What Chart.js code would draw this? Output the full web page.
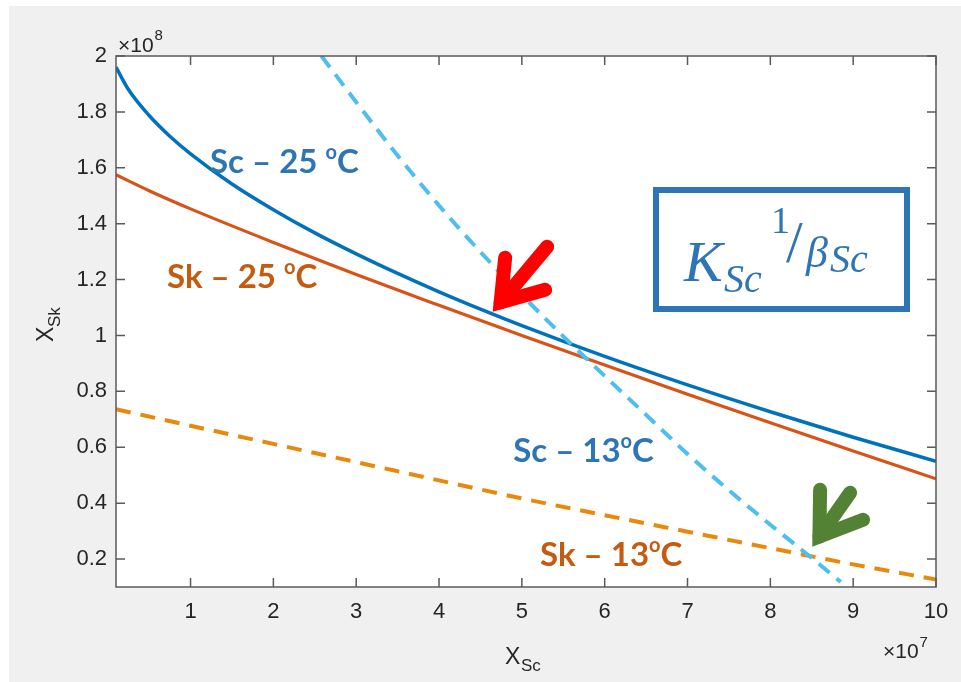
<!DOCTYPE html>
<html>
<head>
<meta charset="utf-8">
<script src="https://cdn.jsdelivr.net/npm/chart.js@4.4.1/dist/chart.umd.min.js"></script>
<style>
  html, body { margin: 0; padding: 0; background: #fff; }
</style>
</head>
<body>
<canvas id="c" width="961" height="682"></canvas>
<script>
// units: x in 1e7, y in 1e8
const xTicks = [1, 2, 3, 4, 5, 6, 7, 8, 9, 10];
const yTicks = [0.2, 0.4, 0.6, 0.8, 1, 1.2, 1.4, 1.6, 1.8, 2];

// Sc - 25 °C
const sc25X = [0.1, 0.25, 0.5, 0.75, 1, 1.5, 2, 2.5, 3, 3.5, 4, 4.5, 5, 6, 7, 8, 9, 10];
const sc25Y = [1.96, 1.88, 1.787, 1.713, 1.65, 1.542, 1.45, 1.367, 1.292, 1.222, 1.156, 1.094, 1.035, 0.925, 0.823, 0.727, 0.636, 0.55];

// Sk - 25 °C
const sk25X = [0.1, 0.5, 1, 2, 3, 4, 5, 6, 7, 8, 9, 10];
const sk25Y = [1.575, 1.518, 1.453, 1.333, 1.218, 1.108, 1.0, 0.894, 0.79, 0.688, 0.587, 0.487];

// Sc - 13 °C
const sc13X = [2.58, 3, 3.5, 4, 4.5, 5, 5.5, 6, 6.5, 7, 7.5, 8, 8.5, 8.85];
const sc13Y = [2.0, 1.835, 1.644, 1.465, 1.299, 1.145, 0.997, 0.855, 0.716, 0.576, 0.446, 0.323, 0.204, 0.118];

// Sk - 13 °C
const sk13X = [0.1, 1, 2, 3, 4, 5, 6, 7, 8, 9, 10];
const sk13Y = [0.736, 0.677, 0.612, 0.547, 0.4815, 0.417, 0.357, 0.298, 0.239, 0.181, 0.127];

// text labels (anchor = left / baseline, data units)
const curveLabels = [
  { name: 'Sc – 25 ', tail: 'C', x: 1.235, y: 1.58, color: '#2E75B6' },
  { name: 'Sk – 25 ', tail: 'C', x: 0.716, y: 1.17, color: '#C55A11' },
  { name: 'Sc – 13', tail: 'C', x: 4.895, y: 0.548, color: '#2E75B6' },
  { name: 'Sk – 13', tail: 'C', x: 5.22, y: 0.176, color: '#C55A11' }
];

// arrows: tip in data units, arm / shaft offsets in px
const arrows = [
  { x: 4.617, y: 1.074, arm1: [15, -57], arm2: [55, -25], shaft: [57, -68], color: '#FF0000', w: 14 },
  { x: 8.48, y: 0.233, arm1: [10, -60], arm2: [53, -30], shaft: [40, -57], color: '#548235', w: 14 }
];

function pts(xs, ys) {
  return xs.map((x, i) => ({ x: x, y: ys[i] }));
}

const axisFont = 'Liberation Sans, Arial, sans-serif';
const labelFont = 'Lato, Open Sans, sans-serif';
const mathFont = 'Liberation Serif, DejaVu Serif, serif';

function arrow(ctx, tip, a) {
  const n1 = Math.hypot(a.arm1[0], a.arm1[1]);
  const n2 = Math.hypot(a.arm2[0], a.arm2[1]);
  const u1 = [a.arm1[0] / n1, a.arm1[1] / n1];
  const u2 = [a.arm2[0] / n2, a.arm2[1] / n2];
  let d = [u1[0] + u2[0], u1[1] + u2[1]];
  const dn = Math.hypot(d[0], d[1]);
  d = [d[0] / dn, d[1] / dn];
  const half = Math.acos(u1[0] * u2[0] + u1[1] * u2[1]) / 2;
  const m = (a.w / 2) / Math.sin(half);
  const vx = tip.x + d[0] * m, vy = tip.y + d[1] * m;
  ctx.save();
  ctx.strokeStyle = a.color;
  ctx.lineWidth = a.w;
  ctx.lineCap = 'round';
  ctx.lineJoin = 'miter';
  ctx.miterLimit = 10;
  ctx.beginPath();
  ctx.moveTo(tip.x + a.arm1[0], tip.y + a.arm1[1]);
  ctx.lineTo(vx, vy);
  ctx.lineTo(tip.x + a.arm2[0], tip.y + a.arm2[1]);
  ctx.stroke();
  ctx.beginPath();
  ctx.moveTo(vx, vy);
  ctx.lineTo(tip.x + a.shaft[0], tip.y + a.shaft[1]);
  ctx.stroke();
  ctx.restore();
}

const decor = {
  id: 'decor',
  beforeDraw(chart) {
    const ctx = chart.ctx, a = chart.chartArea;
    ctx.save();
    ctx.fillStyle = '#ffffff';
    ctx.fillRect(0, 0, chart.width, chart.height);
    ctx.fillStyle = '#f0f0f0';
    ctx.fillRect(9, 6, chart.width - 9, chart.height - 6);
    ctx.fillStyle = '#ffffff';
    ctx.fillRect(a.left, a.top, a.right - a.left, a.bottom - a.top);
    ctx.restore();
  },
  afterDraw(chart) {
    const ctx = chart.ctx, a = chart.chartArea;
    const xs = chart.scales.x, ys = chart.scales.y;
    ctx.save();

    // axes box + inward ticks
    ctx.strokeStyle = '#5a5a5a';
    ctx.lineWidth = 1.5;
    ctx.strokeRect(a.left, a.top, a.right - a.left, a.bottom - a.top);
    ctx.beginPath();
    xTicks.forEach(v => {
      const p = xs.getPixelForValue(v);
      ctx.moveTo(p, a.bottom); ctx.lineTo(p, a.bottom - 9);
      ctx.moveTo(p, a.top); ctx.lineTo(p, a.top + 9);
    });
    yTicks.forEach(v => {
      const p = ys.getPixelForValue(v);
      ctx.moveTo(a.left, p); ctx.lineTo(a.left + 9, p);
      ctx.moveTo(a.right, p); ctx.lineTo(a.right - 9, p);
    });
    ctx.stroke();

    // exponent labels
    ctx.fillStyle = '#262626';
    ctx.textBaseline = 'alphabetic';
    ctx.font = '21px ' + axisFont;
    const ew = ctx.measureText('×10').width;
    ctx.fillText('×10', a.left + 2, a.top - 4);
    ctx.fillText('×10', a.right - 53, a.bottom + 71);
    ctx.font = '15px ' + axisFont;
    ctx.fillText('8', a.left + 3 + ew, a.top - 16);
    ctx.fillText('7', a.right - 52 + ew, a.bottom + 60);

    // axis titles
    ctx.font = '23px ' + axisFont;
    ctx.fillText('X', 505, 664);
    ctx.font = '17px ' + axisFont;
    ctx.fillText('Sc', 521, 671);
    ctx.save();
    ctx.translate(53, 342);
    ctx.rotate(-Math.PI / 2);
    ctx.font = '23px ' + axisFont;
    ctx.fillText('X', 0, 0);
    ctx.font = '17px ' + axisFont;
    ctx.fillText('Sk', 15, 7);
    ctx.restore();

    // curve labels
    curveLabels.forEach(l => {
      const px = xs.getPixelForValue(l.x), py = ys.getPixelForValue(l.y);
      ctx.fillStyle = l.color;
      ctx.font = 'bold 33px ' + labelFont;
      ctx.fillText(l.name, px, py);
      let w = ctx.measureText(l.name).width;
      ctx.font = 'bold 20px ' + labelFont;
      ctx.fillText('o', px + w, py - 14);
      w += ctx.measureText('o').width;
      ctx.font = 'bold 33px ' + labelFont;
      ctx.fillText(l.tail, px + w, py);
    });

    // formula box
    ctx.fillStyle = '#ffffff';
    ctx.fillRect(656, 190, 251, 119);
    ctx.strokeStyle = '#2E75B6';
    ctx.lineWidth = 6;
    ctx.strokeRect(656, 190, 251, 119);
    ctx.fillStyle = '#2E75B6';
    ctx.font = 'italic 58px ' + mathFont;
    ctx.fillText('K', 684, 281);
    ctx.font = 'italic 40px ' + mathFont;
    ctx.fillText('Sc', 724, 292);
    ctx.font = '38px ' + mathFont;
    ctx.fillText('1', 771, 233);
    ctx.font = '60px ' + mathFont;
    ctx.fillText('/', 786, 262);
    ctx.font = 'italic 44px ' + mathFont;
    ctx.fillText('β', 806, 267);
    ctx.font = 'italic 40px ' + mathFont;
    ctx.fillText('Sc', 830, 272);

    // arrows
    arrows.forEach(ar => {
      arrow(ctx, { x: xs.getPixelForValue(ar.x), y: ys.getPixelForValue(ar.y) }, ar);
    });
    ctx.restore();
  }
};

function line(data, color, width, dash) {
  return {
    data: data,
    borderColor: color,
    borderWidth: width,
    borderDash: dash || [],
    showLine: true,
    pointRadius: 0,
    cubicInterpolationMode: 'monotone'
  };
}

new Chart(document.getElementById('c'), {
  type: 'scatter',
  data: {
    datasets: [
      line(pts(sc13X, sc13Y), '#4DBEEE', 4, [14, 9]),
      line(pts(sk13X, sk13Y), '#E8890C', 4, [15, 10]),
      line(pts(sc25X, sc25Y), '#0072BD', 3.5),
      line(pts(sk25X, sk25Y), '#D95319', 3.2)
    ]
  },
  options: {
    responsive: false,
    animation: false,
    layout: { padding: { left: 0, right: 25, top: 56, bottom: 0 } },
    plugins: { legend: { display: false }, tooltip: { enabled: false } },
    scales: {
      x: {
        type: 'linear',
        min: 0.1,
        max: 10,
        afterBuildTicks: s => { s.ticks = xTicks.map(v => ({ value: v })); },
        afterFit: s => { s.height = 95; },
        grid: { display: false, drawTicks: false },
        border: { display: false },
        ticks: {
          padding: 12,
          color: '#262626',
          maxRotation: 0,
          autoSkip: false,
          font: { family: axisFont, size: 22 },
          callback: v => String(v)
        }
      },
      y: {
        type: 'linear',
        min: 0.1,
        max: 2,
        afterBuildTicks: s => { s.ticks = yTicks.map(v => ({ value: v })); },
        afterFit: s => { s.width = 116; },
        grid: { display: false, drawTicks: false },
        border: { display: false },
        ticks: {
          padding: 9,
          color: '#262626',
          autoSkip: false,
          font: { family: axisFont, size: 22 },
          callback: v => String(v)
        }
      }
    }
  },
  plugins: [decor]
});
</script>
</body>
</html>
